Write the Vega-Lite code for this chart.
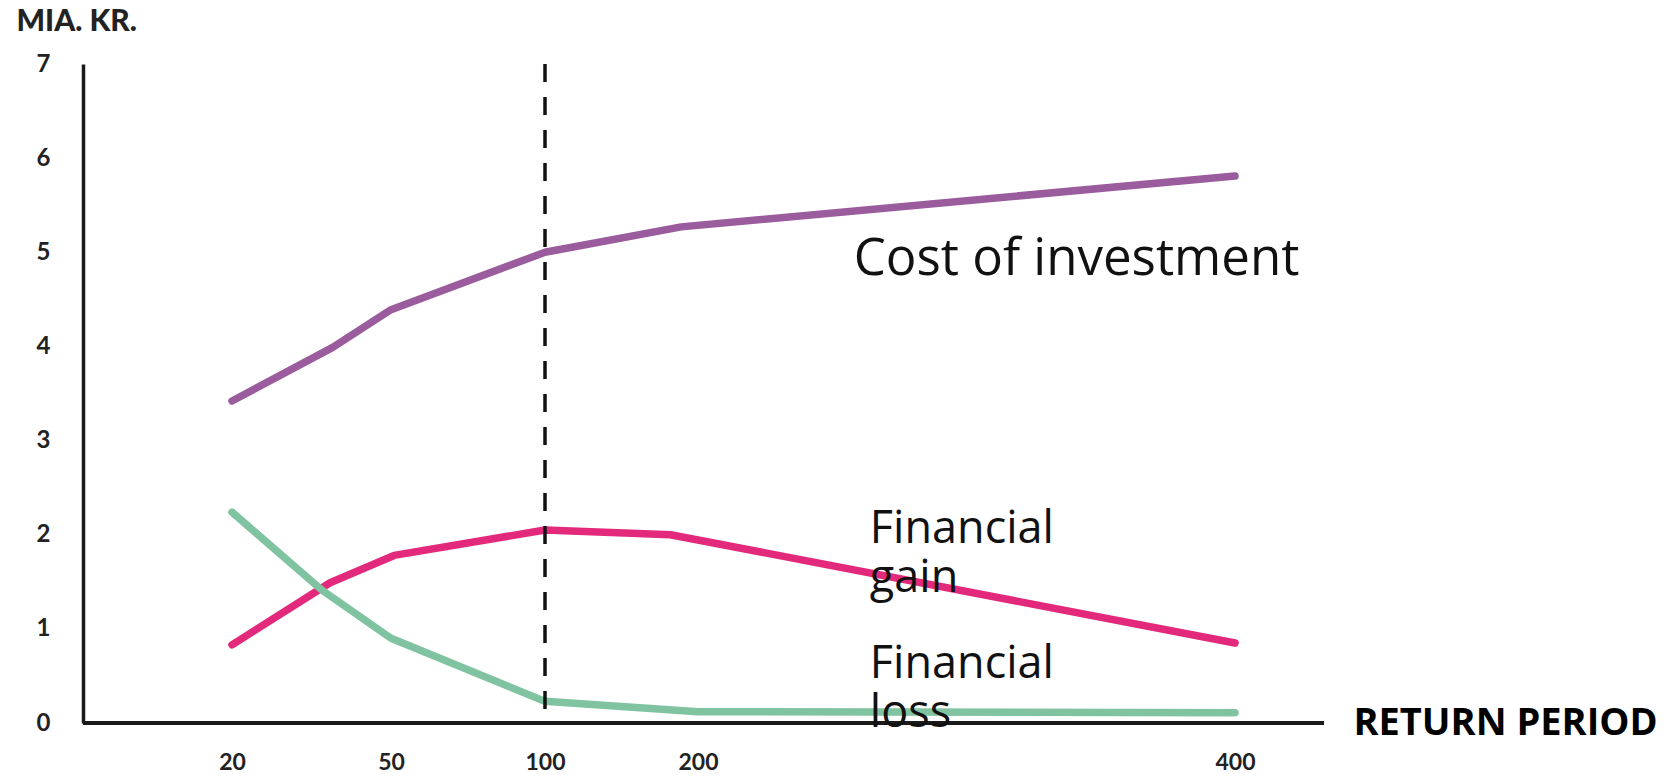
{
  "$schema": "https://vega.github.io/schema/vega-lite/v6.json",
  "width": 1241,
  "height": 659,
  "autosize": "none",
  "padding": {"left": 83, "top": 64, "right": 346, "bottom": 53},
  "background": "white",
  "config": {"view": {"stroke": null}, "font": "Open Sans"},
  "datasets": {
    "lines": [
      {"series": "Cost of investment", "period": 20, "value": 3.42},
      {"series": "Cost of investment", "period": 39, "value": 3.99},
      {"series": "Cost of investment", "period": 50, "value": 4.39},
      {"series": "Cost of investment", "period": 100, "value": 5.0},
      {"series": "Cost of investment", "period": 189, "value": 5.27},
      {"series": "Cost of investment", "period": 400, "value": 5.81},
      {"series": "Financial gain", "period": 20, "value": 0.83},
      {"series": "Financial gain", "period": 38.5, "value": 1.49},
      {"series": "Financial gain", "period": 51, "value": 1.78},
      {"series": "Financial gain", "period": 100, "value": 2.05},
      {"series": "Financial gain", "period": 182, "value": 2.0},
      {"series": "Financial gain", "period": 400, "value": 0.85},
      {"series": "Financial loss", "period": 20, "value": 2.24},
      {"series": "Financial loss", "period": 37, "value": 1.41},
      {"series": "Financial loss", "period": 50, "value": 0.9},
      {"series": "Financial loss", "period": 100, "value": 0.23},
      {"series": "Financial loss", "period": 200, "value": 0.12},
      {"series": "Financial loss", "period": 400, "value": 0.11}
    ],
    "labels": [
      {"label": "Cost of investment", "period": 258, "value": 4.76},
      {"label": "Financial\ngain", "period": 264, "value": 1.91},
      {"label": "Financial\nloss", "period": 264, "value": 0.48}
    ]
  },
  "layer": [
    {
      "data": {"name": "lines"},
      "mark": {"type": "line", "strokeWidth": 7.5, "strokeCap": "round", "strokeJoin": "round"},
      "encoding": {
        "x": {
          "field": "period", "type": "quantitative",
          "scale": {"domain": [20, 50, 100, 200, 400], "range": [149, 308, 462, 615, 1152], "nice": false, "zero": false},
          "axis": {
            "values": [20, 50, 100, 200, 400], "format": "d", "domain": false, "ticks": false, "tickSize": 0, "grid": false,
            "labelPadding": 39, "labelBaseline": "middle", "labelFont": "Lato", "labelFontWeight": "bold",
            "labelFontSize": 23, "labelColor": "#222222", "labelFlush": false, "labelOverlap": false,
            "title": "RETURN PERIOD", "titleX": 1270, "titleY": 0, "titleAlign": "left", "titleBaseline": "middle",
            "titleFont": "Open Sans", "titleFontSize": 38, "titleFontWeight": "bold", "titleColor": "#000000"
          }
        },
        "y": {
          "field": "value", "type": "quantitative",
          "scale": {"domain": [0, 7], "nice": false},
          "axis": {
            "values": [0, 1, 2, 3, 4, 5, 6, 7], "format": "d", "domainColor": "#1a1a1a", "domainWidth": 3.5,
            "ticks": false, "tickSize": 0, "grid": false,
            "labelPadding": 40, "labelAlign": "center", "labelFont": "Lato", "labelFontWeight": "bold",
            "labelFontSize": 24, "labelColor": "#222222",
            "title": "MIA. KR.", "titleAngle": 0, "titleX": -67, "titleY": -34, "titleAlign": "left",
            "titleBaseline": "alphabetic", "titleFont": "Lato", "titleFontWeight": "900", "titleFontSize": 30,
            "titleColor": "#222222"
          }
        },
        "color": {
          "field": "series", "type": "nominal",
          "scale": {"domain": ["Cost of investment", "Financial gain", "Financial loss"], "range": ["#9b5c9d", "#e2297b", "#7fc3a1"]},
          "legend": null
        }
      }
    },
    {
      "data": {"values": [{}]},
      "mark": {"type": "rule", "strokeWidth": 4, "color": "#1a1a1a"},
      "encoding": {"y": {"datum": 0}}
    },
    {
      "data": {"values": [{}]},
      "mark": {"type": "rule", "strokeWidth": 3.5, "strokeDash": [18, 15], "color": "#111111"},
      "encoding": {"x": {"datum": 100}}
    },
    {
      "data": {"name": "labels"},
      "transform": [{"filter": "datum.label == 'Cost of investment'"}],
      "mark": {"type": "text", "align": "left", "baseline": "alphabetic", "fontSize": 51, "font": "Open Sans", "color": "#111111"},
      "encoding": {
        "x": {"field": "period", "type": "quantitative"},
        "y": {"field": "value", "type": "quantitative"},
        "text": {"field": "label"}
      }
    },
    {
      "data": {"name": "labels"},
      "transform": [{"filter": "datum.label != 'Cost of investment'"}],
      "mark": {"type": "text", "align": "left", "baseline": "alphabetic", "fontSize": 45, "font": "Open Sans", "color": "#111111", "lineBreak": "\n", "lineHeight": 49},
      "encoding": {
        "x": {"field": "period", "type": "quantitative"},
        "y": {"field": "value", "type": "quantitative"},
        "text": {"field": "label"}
      }
    }
  ]
}
